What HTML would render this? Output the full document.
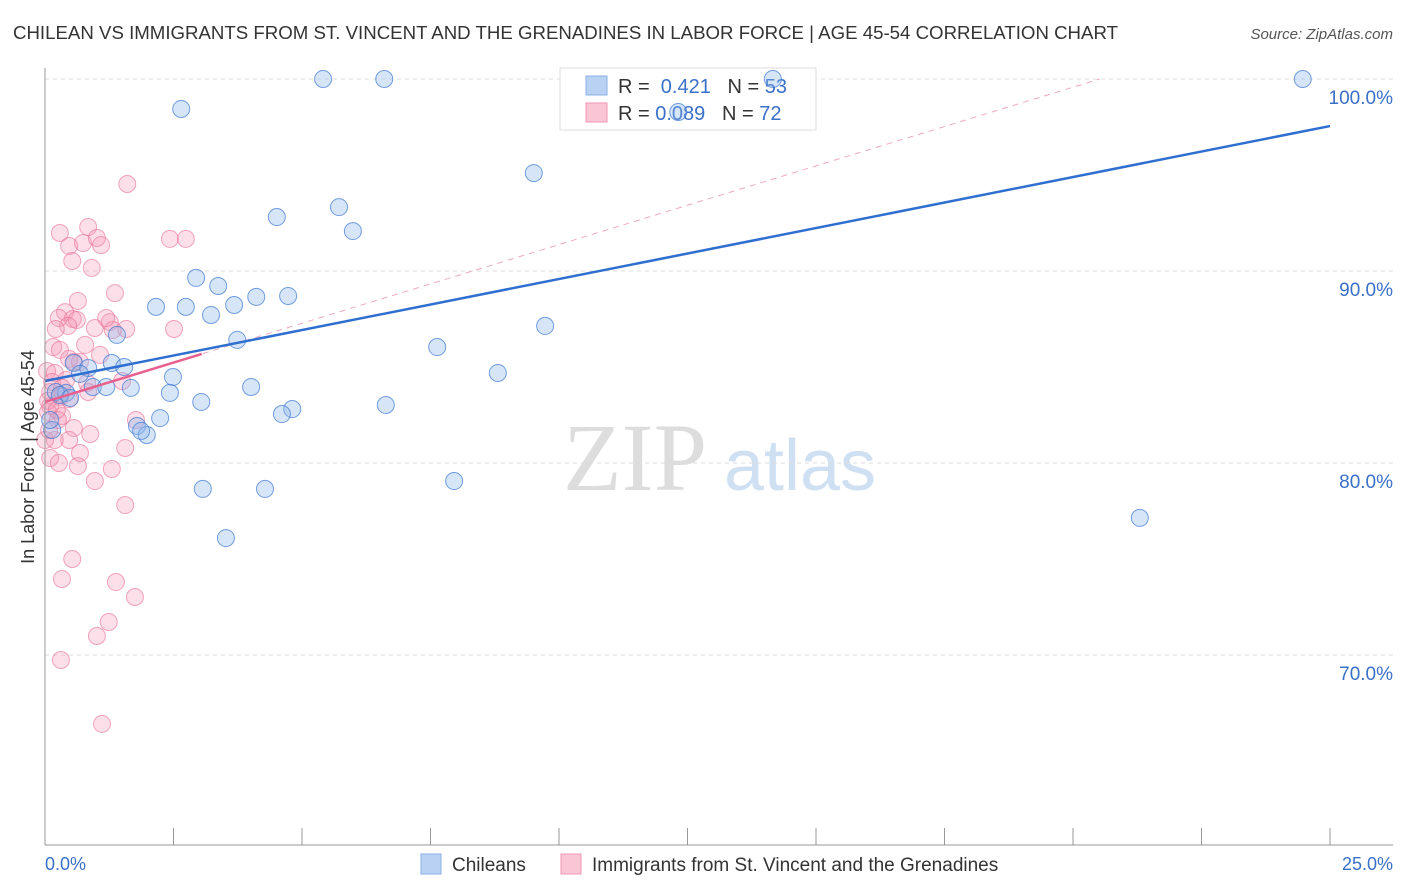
<!DOCTYPE html>
<html><head><meta charset="utf-8"><style>
body{margin:0;background:#fff;font-family:"Liberation Sans",sans-serif}
#wrap{position:relative;width:1406px;height:892px;overflow:hidden}
</style></head><body>
<div id="wrap">
<svg id="svg" width="1406" height="892">
<text x="13" y="39" font-size="18" fill="#333" textLength="1105" lengthAdjust="spacingAndGlyphs">CHILEAN VS IMMIGRANTS FROM ST. VINCENT AND THE GRENADINES IN LABOR FORCE | AGE 45-54 CORRELATION CHART</text>
<text x="1393" y="39" font-size="15" fill="#555" font-style="italic" text-anchor="end">Source: ZipAtlas.com</text>
<text x="635" y="490" font-size="96" fill="#ddd" font-family="Liberation Serif,serif" text-anchor="middle">ZIP</text>
<text x="800" y="490" font-size="72" fill="#cfe0f3" text-anchor="middle">atlas</text>
<g id="grid"></g>
<g>
<rect x="560" y="68" width="256" height="62" fill="#fff" stroke="#ddd"/>
<rect x="586" y="76" width="21" height="19" fill="#b9d2f3" stroke="#8ab0e6"/>
<rect x="586" y="103" width="21" height="19" fill="#fac6d6" stroke="#f096b4"/>
<text x="618" y="93" font-size="20" fill="#333">R = <tspan fill="#3a70c8">&#160;0.421</tspan>&#160;&#160;&#160;N = <tspan fill="#3a70c8">53</tspan></text>
<text x="618" y="120" font-size="20" fill="#333">R = <tspan fill="#3a70c8">0.089</tspan>&#160;&#160;&#160;N = <tspan fill="#3a70c8">72</tspan></text>
</g>
<g id="pts"></g><g id="lines"></g>
<line x1="45" y1="68" x2="45" y2="845" stroke="#999"/>
<line x1="45" y1="845" x2="1393" y2="845" stroke="#999"/>
<text transform="translate(34,457) rotate(-90)" font-size="18" fill="#333" text-anchor="middle">In Labor Force | Age 45-54</text>
<text x="45" y="870" font-size="18" fill="#3a70c8">0.0%</text>
<text x="1393" y="870" font-size="18" fill="#3a70c8" text-anchor="end">25.0%</text>
<g>
<rect x="421" y="854" width="20" height="20" fill="#b9d2f3" stroke="#8ab0e6"/>
<text x="452" y="871" font-size="19" fill="#333">Chileans</text>
<rect x="561" y="854" width="20" height="20" fill="#fac6d6" stroke="#f096b4"/>
<text x="592" y="871" font-size="19" fill="#333">Immigrants from St. Vincent and the Grenadines</text>
</g>
</svg></div>
<script>
const yTicks=[100,90,80,70];
const xTicks=[0,2.5,5,7.5,10,12.5,15,17.5,20,22.5,25];
const blueX=[5.41,6.60,14.16,24.47,2.65,9.51,4.51,5.72,5.99,2.94,3.37,2.16,2.74,3.23,3.68,4.11,4.73,9.73,1.40,3.74,7.63,0.56,0.84,1.30,1.54,0.68,8.81,2.49,0.93,1.19,1.67,4.01,0.41,0.21,2.43,3.04,6.63,4.81,4.61,2.24,1.79,1.98,1.87,0.14,7.96,3.07,4.28,3.52,21.30,12.32,0.29,0.10,0.49];
const blueY=[100,100,100,100,98.44,95.10,92.81,93.33,92.08,89.64,89.22,88.13,88.13,87.71,88.23,88.65,88.70,87.14,86.67,86.41,86.04,85.21,84.95,85.21,85.0,84.64,84.69,84.48,83.96,83.96,83.91,83.96,83.65,83.70,83.65,83.18,83.02,82.81,82.55,82.34,81.93,81.46,81.67,81.72,79.06,78.65,78.65,76.09,77.14,98.28,83.54,82.24,83.39];
const pinkX=[1.60,0.29,0.84,0.47,0.74,1.01,1.09,2.43,2.74,0.53,0.91,1.36,0.64,0.39,0.27,0.54,0.62,0.45,0.21,0.97,1.26,1.58,2.51,1.32,1.19,0.16,0.29,0.47,0.68,0.04,0.19,0.56,1.50,0.82,0.47,0.29,0.10,0.06,0.33,1.77,0.56,0.88,0.47,1.56,0.68,0.10,0.27,0.64,1.30,0.97,1.56,0.53,0.33,1.38,1.75,1.24,1.01,0.31,1.11,0.19,0.10,0.14,0.0,0.25,0.06,0.23,0.41,0.78,1.07,0.08,0.33,0.84];
const pinkY=[94.53,91.98,92.29,91.30,91.46,91.72,91.35,91.67,91.67,90.52,90.16,88.85,88.44,87.86,87.55,87.50,87.45,87.14,86.98,87.03,87.34,86.98,86.98,86.93,87.55,86.04,85.89,85.42,85.26,84.79,84.69,85.26,84.27,84.17,83.33,83.44,82.97,82.66,82.45,82.24,81.82,81.51,81.20,80.78,80.52,80.26,80.0,79.84,79.69,79.06,77.81,75.0,73.96,73.80,73.02,71.72,70.99,69.74,66.41,81.20,83.70,84.22,81.20,82.24,83.24,82.76,84.32,86.15,85.63,81.72,83.91,83.70];
const blueLine=[84.27,97.55];
const pinkLine=[83.18,85.68,3.05];
const X=v=>45+v/25*1285, Y=v=>79+(100-v)*19.2;
const NS='http://www.w3.org/2000/svg';
function mk(t,a,p){const e=document.createElementNS(NS,t);for(const k in a)e.setAttribute(k,a[k]);p.appendChild(e);return e;}
const grid=document.getElementById('grid');
yTicks.forEach(t=>{
 const l=mk('line',{x1:45,x2:1393,y1:Y(t),y2:Y(t),stroke:'#ddd','stroke-dasharray':'4,4'},grid);
 
 
 const tx=mk('text',{x:1393,y:Y(t)+25,'font-size':19,fill:'#3a70c8','text-anchor':'end'},grid);
 tx.textContent=t.toFixed(1)+'%';
 
 
});
xTicks.forEach(t=>{
 const l=mk('line',{x1:X(t),x2:X(t),y1:828,y2:845,stroke:'#999'},grid);
 
 
});
const pts=document.getElementById('pts');
pinkX.forEach((x,i)=>{
 const c=mk('circle',{cx:X(x),cy:Y(pinkY[i]),r:8.5,fill:'rgba(244,150,180,0.3)',stroke:'rgba(232,110,150,0.6)','stroke-width':1},pts);
 
 
});
blueX.forEach((x,i)=>{
 const c=mk('circle',{cx:X(x),cy:Y(blueY[i]),r:8.5,fill:'rgba(140,180,235,0.35)',stroke:'rgba(60,120,210,0.7)','stroke-width':1},pts);
 
 
});
const lines=document.getElementById('lines');
const slope=(pinkLine[1]-pinkLine[0])/pinkLine[2];
const xe=(100-pinkLine[0])/slope;
const d=mk('line',{x1:X(0),y1:Y(pinkLine[0]),x2:X(xe),y2:Y(100),stroke:'#eeaabf','stroke-dasharray':'6,5','stroke-width':1},lines);


const b=mk('line',{x1:X(0),y1:Y(blueLine[0]),x2:X(25),y2:Y(blueLine[1]),stroke:'#2f6fd0','stroke-width':2.5},lines);


const p=mk('line',{x1:X(0),y1:Y(pinkLine[0]),x2:X(pinkLine[2]),y2:Y(pinkLine[1]),stroke:'#e8608f','stroke-width':2.5},lines);


</script>
</body></html>
